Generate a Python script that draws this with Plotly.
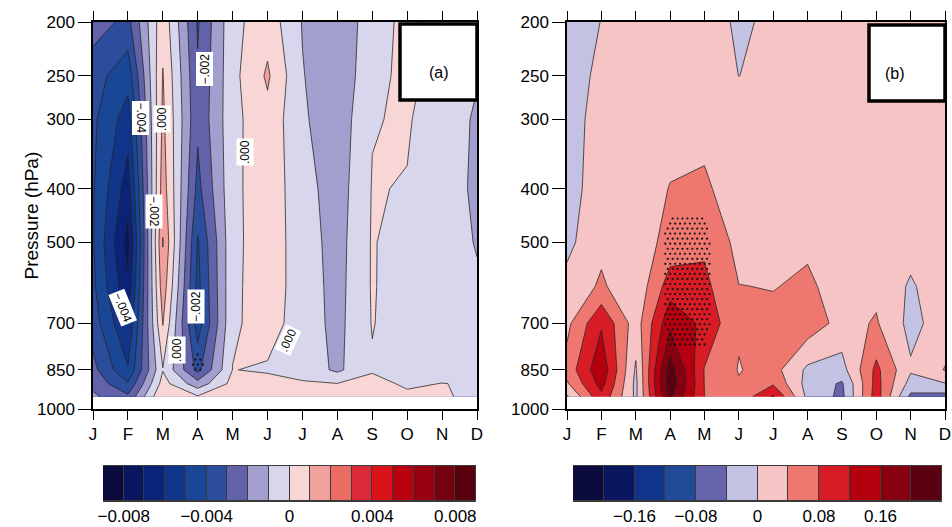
import numpy as np
import plotly.graph_objects as go

# ---------------- data ----------------
months = list(range(1, 13))
month_labels = ["J", "F", "M", "A", "M", "J", "J", "A", "S", "O", "N", "D"]
levels_hpa = [200, 250, 300, 400, 500, 600, 700, 850, 900, 950]
ytick_vals = [200, 250, 300, 400, 500, 700, 850, 1000]

# Panel (a): values in units of 1e-3, one list per month (top level -> bottom level)
za_cols = [
    [-2.5, -3.6, -3.8, -3.9, -3.9, -3.8, -3.5, -2.7, -2.3, -1.8],     # J
    [-3.3, -4.6, -5.5, -6.5, -7.4, -6.8, -6.0, -4.9, -3.9, -2.8],     # F
    [0.7, 1.05, 1.2, 1.5, 2.05, 1.6, 1.05, -0.05, 0.4, 1.0],          # M
    [-3.1, -2.9, -2.8, -3.3, -4.1, -4.3, -4.5, -3.3, -1.6, 0.1],      # A
    [-0.3, -0.3, -0.3, -0.25, -0.25, -0.2, -0.15, 0.02, 0.3, 0.6],    # M
    [0.6, 1.15, 0.7, 0.6, 0.55, 0.5, 0.4, -0.1, 0.3, 0.5],            # J
    [-1.05, -0.95, -0.85, -0.6, -0.5, -0.45, -0.45, -0.35, 0.1, 0.3], # J
    [-1.7, -1.7, -1.65, -1.5, -1.4, -1.35, -1.3, -1.2, 0.02, 0.2],    # A
    [-0.5, -0.35, -0.05, 0.05, 0.08, 0.08, 0.05, -0.1, 0.3, 0.3],     # S
    [0.3, 0.3, 0.1, -0.05, -0.5, -0.55, -0.55, -0.5, -0.15, 0.2],     # O
    [-0.5, -0.5, -0.6, -0.6, -0.6, -0.6, -0.6, -0.4, 0.02, 0.15],     # N
    [-0.8, -0.95, -1.1, -1.15, -1.05, -0.9, -0.75, -0.5, -0.1, -0.3], # D
]

# Panel (b): values in units of 1e-2, one list per month
zb_cols = [
    [-2.5, -2.5, -2.2, -2.0, -1.0, 1.2, 3.0, 5.5, 3.5, -0.5],     # J
    [0.1, 1.2, 2.0, 2.5, 3.0, 4.6, 11.5, 15.0, 13.5, 11.0],       # F
    [1.5, 2.0, 2.2, 2.5, 1.5, 1.0, 2.0, -0.5, -1.0, -0.8],        # M
    [2.6, 2.8, 3.0, 4.1, 5.5, 10.0, 15.0, 22.0, 23.0, 21.0],      # A
    [3.0, 3.2, 3.4, 4.3, 7.2, 9.0, 11.0, 7.8, 7.9, 8.0],          # M
    [-1.0, -0.05, 2.5, 3.0, 2.9, 4.05, 4.5, 3.8, 4.3, 5.0],       # J
    [1.2, 1.5, 2.8, 3.0, 3.3, 3.9, 4.6, 5.5, 7.5, 12.5],          # J
    [1.5, 1.8, 2.5, 3.0, 3.6, 4.4, 6.5, -0.8, -1.5, -1.0],        # A
    [2.0, 2.2, 2.5, 3.0, 3.3, 3.0, 2.5, -1.5, -4.5, -5.0],        # S
    [2.0, 2.2, 2.5, 3.0, 3.0, 3.0, 4.4, 9.0, 9.5, 10.0],          # O
    [2.0, 2.2, 2.5, 2.8, 1.5, -0.5, -1.2, 0.5, -1.5, -5.0],       # N
    [2.0, 2.2, 2.5, 2.8, 2.5, 2.5, 2.0, 4.2, -0.2, -5.5],         # D
]

# Significance index (positive = significant), one list per month
sig_a_cols = [[-4] * 10 for _ in range(12)]
sig_a_cols[3] = [-4, -4, -4, -4, -4, -4, -1, 1, -3, -4]
sig_b_cols = [[-4] * 10 for _ in range(12)]
sig_b_cols[3] = [-4, -4, -4, -1, 1, 1, 1, -1, -4, -4]
sig_b_cols[4] = [-4, -4, -4, -1, 1, 1, 1, -1, -4, -4]

# colour bands
colors_a = ["#0a0a3c", "#081660", "#0a2278", "#12358c", "#1a4696", "#2c4c9c",
            "#6262aa", "#a29ece", "#d8d6ec", "#f8d6d6", "#f2a09c", "#ec6c64",
            "#dc2a3a", "#d81418", "#b8000e", "#980012", "#740010", "#58000e"]
colors_b = ["#0b0b3e", "#0a165e", "#12338a", "#214a98", "#6764ae", "#c4c2e2",
            "#f6c4c4", "#ee7870", "#d81c26", "#b4000e", "#860010", "#5a0010"]
levels_a = dict(start=-8, end=8, size=1)        # x 1e-3
levels_b = dict(start=-20, end=20, size=4)      # x 1e-2
cb_a_ticks = [-0.008, -0.004, 0, 0.004, 0.008]
cb_b_ticks = [-0.16, -0.08, 0, 0.08, 0.16]

# ---------------- figure ----------------
W, H = 952, 527
def px(x):
    return x / W
def py(y):
    return 1 - y / H

za = np.array(za_cols).T
zb = np.array(zb_cols).T

def cscale(cols):
    n = len(cols) - 1
    return [[k / n, c] for k, c in enumerate(cols)]

fig = go.Figure()
line_style = dict(color="#262626", width=0.8, smoothing=0)
fig.add_trace(go.Contour(
    x=months, y=levels_hpa, z=za, xaxis="x", yaxis="y",
    contours=dict(start=levels_a["start"], end=levels_a["end"] + 1e-6,
                  size=levels_a["size"], coloring="fill", showlines=True),
    colorscale=cscale(colors_a), line=line_style, showscale=False,
    hoverinfo="skip"))
fig.add_trace(go.Contour(
    x=months, y=levels_hpa, z=zb, xaxis="x2", yaxis="y2",
    contours=dict(start=levels_b["start"], end=levels_b["end"] + 1e-6,
                  size=levels_b["size"], coloring="fill", showlines=True),
    colorscale=cscale(colors_b), line=line_style, showscale=False,
    hoverinfo="skip"))

# stippling from significance index (bilinear in month / log-pressure)
def stipple(sig_cols):
    s = np.array(sig_cols, dtype=float).T
    lp_levels = np.log10(levels_hpa)
    dx, dy = 0.143, 0.0091
    xs, ys = [], []
    row = 0
    lp = lp_levels[0]
    while lp <= lp_levels[-1]:
        off = (dx / 2) * (row % 2)
        mx = np.arange(1 + off, 12, dx)
        fx = mx - 1
        fy = np.interp(lp, lp_levels, np.arange(len(levels_hpa)))
        i0 = np.clip(np.floor(fx).astype(int), 0, len(months) - 2)
        j0 = int(np.clip(np.floor(fy), 0, len(levels_hpa) - 2))
        tx = fx - i0
        ty = fy - j0
        v = (s[j0, i0] * (1 - tx) * (1 - ty) + s[j0, i0 + 1] * tx * (1 - ty)
             + s[j0 + 1, i0] * (1 - tx) * ty + s[j0 + 1, i0 + 1] * tx * ty)
        keep = v > 0
        xs.extend(mx[keep].tolist())
        ys.extend([10 ** lp] * int(keep.sum()))
        lp += dy
        row += 1
    return xs, ys

for sig, xa, ya in [(sig_a_cols, "x", "y"), (sig_b_cols, "x2", "y2")]:
    sx, sy = stipple(sig)
    fig.add_trace(go.Scatter(x=sx, y=sy, mode="markers", xaxis=xa, yaxis=ya,
                             marker=dict(size=2.2, color="#111111"),
                             hoverinfo="skip"))

# colour bars drawn as bars
def cbar(cols, lo, hi, xa, ya):
    n = len(cols)
    w = (hi - lo) / n
    centers = [lo + (k + 0.5) * w for k in range(n)]
    fig.add_trace(go.Bar(x=centers, y=[1] * n, width=[w] * n, xaxis=xa, yaxis=ya,
                         marker=dict(color=cols, line=dict(color="#3a3a3a", width=1)),
                         hoverinfo="skip"))

cbar(colors_a, -0.009, 0.009, "x3", "y3")
cbar(colors_b, -0.24, 0.24, "x4", "y4")

tickfont = dict(family="Liberation Sans, Arial, sans-serif", size=17, color="black")
ydom = [py(409), py(22)]
common_x = dict(range=[1, 12], tickvals=months, ticktext=month_labels, ticks="outside",
                ticklen=9, tickwidth=1.3, tickcolor="black", showline=True,
                linewidth=1.5, linecolor="black", mirror="allticks", showgrid=False,
                zeroline=False, tickfont=tickfont, automargin=False)
common_y = dict(type="log", range=[3, np.log10(200)], tickvals=ytick_vals,
                ticktext=[str(v) for v in ytick_vals], ticks="outside", ticklen=13,
                tickwidth=1.3, tickcolor="black", showline=True, linewidth=1.5,
                linecolor="black", mirror=True, showgrid=False, zeroline=False,
                tickfont=tickfont, automargin=False)

cbfont = dict(family="Liberation Sans, Arial, sans-serif", size=17, color="black")
def cb_x(dom, rng, ticks, anchor):
    return dict(domain=dom, range=rng, tickvals=ticks,
                ticktext=[("\u2212" if t < 0 else "") + (f"{abs(t):g}" if t != 0 else "0") for t in ticks],
                ticks="", showline=True, linecolor="#3a3a3a", linewidth=1, mirror=True,
                showgrid=False, zeroline=False, tickfont=cbfont, anchor=anchor,
                automargin=False)
def cb_y(dom, anchor):
    return dict(domain=dom, range=[0, 1], showticklabels=False, ticks="", showgrid=False,
                zeroline=False, showline=False, anchor=anchor, automargin=False)

fig.update_layout(
    width=W, height=H, margin=dict(l=0, r=0, t=0, b=0, autoexpand=False),
    paper_bgcolor="white", plot_bgcolor="white", showlegend=False, bargap=0,
    font=dict(family="Liberation Sans, Arial, sans-serif", color="black"),
    xaxis=dict(domain=[px(93), px(477)], anchor="y", **common_x),
    yaxis=dict(domain=ydom, anchor="x", **common_y),
    xaxis2=dict(domain=[px(567), px(945)], anchor="y2", **common_x),
    yaxis2=dict(domain=ydom, anchor="x2", **common_y),
    xaxis3=cb_x([px(103), px(476)], [-0.009, 0.009], cb_a_ticks, "y3"),
    yaxis3=cb_y([py(501), py(466)], "x3"),
    xaxis4=cb_x([px(573), px(942)], [-0.24, 0.24], cb_b_ticks, "y4"),
    yaxis4=cb_y([py(501), py(466)], "x4"),
)

# panel label boxes
for (x0, x1, y0, y1, t) in [(400, 477, 24, 100, "(a)"), (869, 945, 25, 101, "(b)")]:
    fig.add_shape(type="rect", xref="paper", yref="paper", x0=px(x0), x1=px(x1),
                  y0=py(y1), y1=py(y0), line=dict(color="black", width=3.5),
                  fillcolor="white", layer="above")
    fig.add_annotation(xref="paper", yref="paper", x=px((x0 + x1) / 2), y=py((y0 + y1) / 2),
                       text=t, showarrow=False, font=dict(size=16, color="black"))

fig.add_annotation(xref="paper", yref="paper", x=px(18), y=py(216), text="Pressure (hPa)",
                   textangle=-90, showarrow=False, font=dict(size=19, color="black"))

# contour labels in panel (a)
clabels = [
    (131, 100, "\u2212.004", 90), (153, 105, ".000", -90), (196, 52, "\u2212.002", -90),
    (145, 211, "\u2212.002", 90), (236, 138, ".000", -90), (108, 308, "\u2212.004", 68),
    (187, 307, "\u2212.002", -90), (168, 350, ".000", -90), (274, 340, ".000", -65),
]
for (x, y, t, a) in clabels:
    fig.add_annotation(xref="paper", yref="paper", x=px(x), y=py(y), text=t, textangle=a,
                       showarrow=False, bgcolor="white", borderpad=1,
                       font=dict(size=12, color="black"))

fig.write_html("out.html", config={"displayModeBar": False},
               post_script="document.body.style.margin='0';document.body.style.overflow='hidden';")
